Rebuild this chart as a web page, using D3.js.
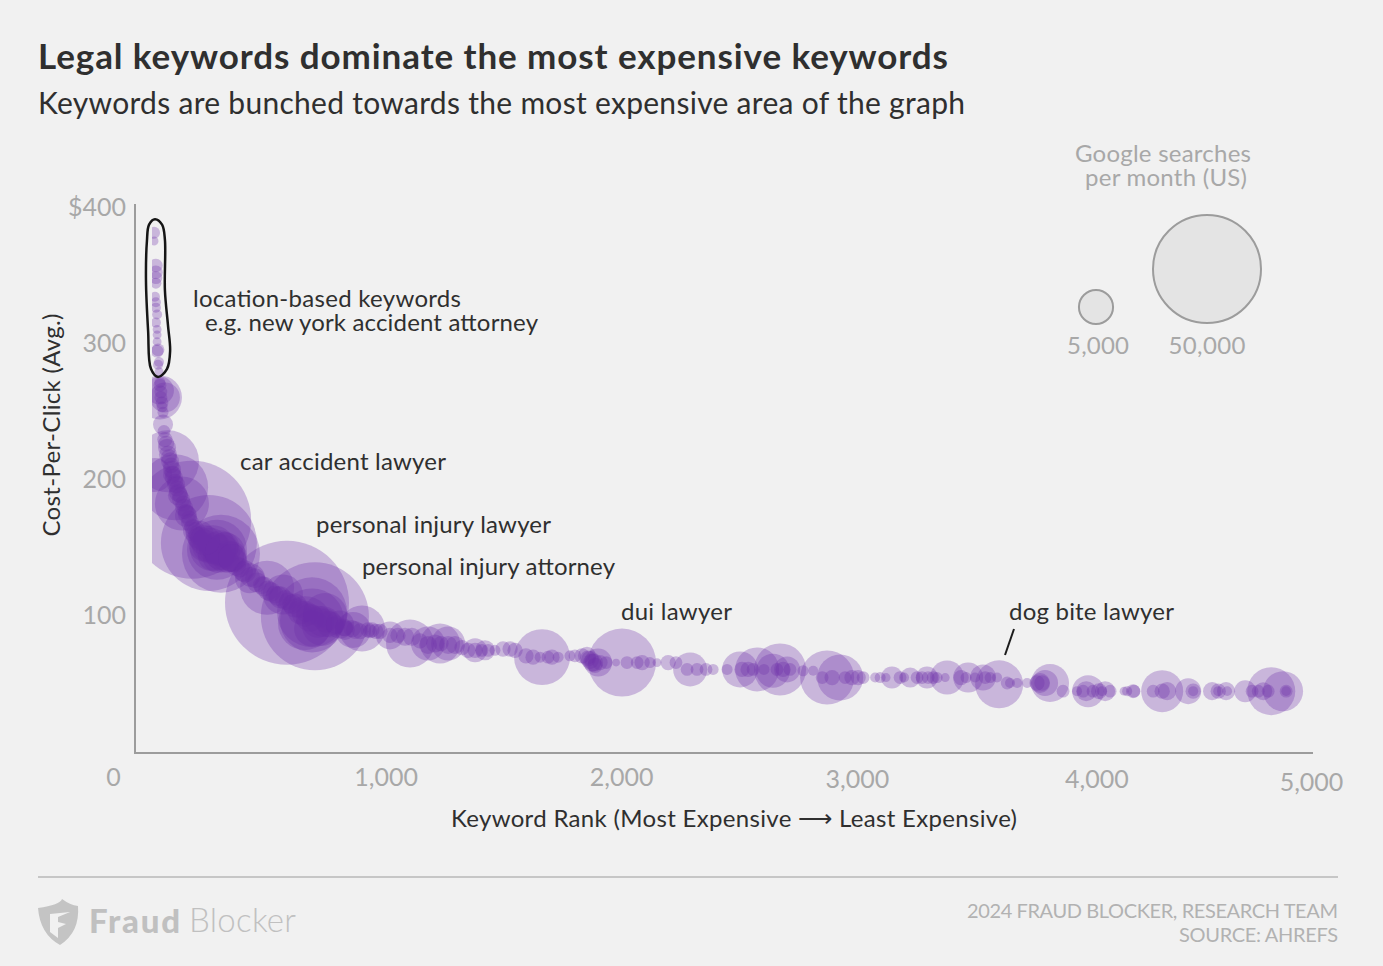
<!DOCTYPE html>
<html>
<head>
<meta charset="utf-8">
<script src="https://cdn.jsdelivr.net/npm/d3@7"></script>
<style>
  html, body { margin: 0; background: #f1f1f1; }
  text { font-family: Lato, "Noto Sans", sans-serif; }
</style>
</head>
<body>
<div id="chart"></div>
<script>
// values: rank, avg cost per click, monthly searches
const ranks = [
  17,17,25,25,25,25,21,25,25,30,25,30,30,30,30,34,34,38,38,
  42,42,63,42,42,46,46,51,51,55,55,59,
  63,72,76,85,93,101,110,118,131,144,156,169,186,203,224,245,266,287,313,338,364,393,423,452,482,511,541,571,600,630,659,689,719,752,786,820,854,888,921,955,
  68,80,89,97,106,114,127,140,152,165,178,194,216,
  211,254,275,304,330,287,245,359,380,317,
  473,528,583,634,676,710,744,782,824,685,727,
  93,118,152,186,211,232,296,347,262,402,444,499,550,613,655,761,824,867,930,
  76,106,21,135,178,249,300,283,266,317,347,232,579,697,495,562,423,685,685,655,740,896,858,803,
  1014,1099,1175,1226,1260,1374,1416,1657,1995,1894,2283,2494,2566,2663,2633,2693,2862,2917,3136,3213,3284,3369,3458,3521,3589,3783,3804,3965,3957,4037,4011,4155,4278,4388,4629,4705,4739,4789,
  938,972,1014,1048,1078,1107,1141,1175,1205,1230,1260,1289,1319,1344,1374,1403,1429,1458,1492,1522,1543,1589,1619,1649,1682,1699,1725,1775,1796,1826,1847,1851,1860,1868,1877,1881,1902,1928,1970,2016,2059,2080,2113,2143,2190,2223,
  2270,2312,2350,2380,2439,2502,2528,2549,2595,2650,2676,2705,2760,2803,2841,2883,2938,2967,2993,3014,3065,3086,3111,3170,3187,3242,3263,3289,3310,3327,3361,3428,3449,3487,3530,3551,3580,
  3623,3635,3665,3707,3749,3762,3770,3859,3918,3944,3986,4024,4058,4117,4130,4159,4240,4278,4299,4409,4409,4489,4515,4515,4548,4553,4658,4684,4726,4802,4802
];
const cpc = [
  381,375,357,352,348,344,334,330,326,321,315,310,306,301,294,295,284,286,279,
  271,260,260,265,269,264,260,256,253,249,240,235,
  229,223,218,213,207,201,196,190,185,179,174,168,162,158,154,151,147,144,142,139,136,132,128,124,121,117,114,111,108,105,102,100,98,96,93,91,90,88,89,88,
  226,216,210,204,198,193,188,182,176,171,165,160,156,
  159,151,149,146,143,142,148,140,135,151,
  122,115,110,102,98,95,96,92,90,90,92,
  203,188,173,162,156,151,149,143,143,132,127,118,113,107,101,93,89,89,88,
  213,194,203,182,170,153,145,148,149,146,142,155,109,99,120,115,127,102,96,94,100,90,89,93,
  85,79,79,79,79,74,74,69,65,65,60,60,60,60,59,60,54,54,54,54,54,54,54,54,49,50,50,44,44,44,44,44,44,44,44,44,44,44,
  89,88,85,85,84,84,81,78,79,79,78,78,76,74,74,74,74,74,75,75,74,70,69,69,69,69,69,70,70,70,70,68,67,65,65,63,65,65,65,65,65,65,65,65,65,65,
  60,60,60,60,60,60,60,60,60,60,60,60,59,59,54,54,54,54,54,54,54,54,54,54,54,54,54,54,54,54,54,54,54,54,54,54,54,
  50,50,50,50,50,50,50,44,44,44,44,44,44,44,44,44,44,44,44,44,44,44,44,44,44,44,44,44,44,44,44
];
const searches = [
  620,340,800,800,700,520,430,430,430,430,430,340,340,340,700,700,430,430,340,
  520,8300,3860,3360,700,700,700,700,520,520,1715,700,
  1000,1400,1400,1400,1400,1400,1400,1400,1400,1400,1400,1400,1400,1400,1700,1700,1700,1700,1700,1700,1700,1700,1700,1700,1700,1700,1700,1700,1700,1700,1700,1700,1700,1700,1500,1300,1300,1100,1000,1000,
  1100,1100,1100,1100,1100,1100,1100,1100,1100,1100,1100,1100,1100,
  3360,5560,4390,5560,4390,3860,2470,2470,1715,3360,
  1390,1390,1390,2470,3360,4390,2470,1390,1100,5560,6860,
  1390,1715,2075,2075,2470,4390,5560,3860,3360,2075,1715,1715,2075,2470,2900,2900,1715,1390,840,
  16500,18700,4950,12500,59700,39500,26100,15400,9070,6860,3360,3860,65900,50000,12500,6860,3860,21000,17600,12500,8300,9070,5560,3360,
  3360,9880,4950,6860,4950,2470,1715,13400,19800,3360,4950,5560,8300,11600,4950,2900,12500,9070,2075,1715,2075,4950,3860,2900,9880,2900,6190,4390,1715,1715,1100,840,7560,2900,2075,1390,9880,6860,
  1000,1000,1000,1000,1400,1400,1000,1400,1400,1000,1400,1400,1000,1000,1000,700,700,520,1000,1000,1000,1000,1000,520,700,1000,520,520,700,1000,1400,1100,1400,1400,1390,1000,1000,700,250,700,700,1000,520,340,1000,700,
  700,700,700,520,520,1000,1000,700,520,700,1000,700,520,430,700,1000,700,1000,1000,700,430,520,340,700,430,700,700,700,700,520,340,1000,520,430,700,520,430,
  700,430,430,430,1000,1715,1000,700,430,700,700,430,700,340,430,700,700,1000,1400,1000,430,1400,430,1000,1400,400,700,700,700,700,400
];

const xTicks = [0, 1000, 2000, 3000, 4000, 5000];
const yTicks = [100, 200, 300, 400];
const legendSearches = [5000, 50000];

// hand drawn loop round the location based keywords
const loopRanks = [21, 51, 63, 63, 76, 85, 72, 34, 4, -8, -17, -13, -4];
const loopCpc = [391, 387, 376, 339, 313, 294, 281, 275, 281, 309, 346, 375, 387];

const width = 1383;
const height = 966;
const purple = "#6c2ea8";
const grey = "#a8a8a8";
const ink = "#2f2f2f";

const svg = d3.select("#chart").append("svg")
  .attr("width", width)
  .attr("height", height)
  .style("display", "block")
  .style("background", "#f1f1f1");

const x = d3.scaleLinear().domain([0, 5000]).range([150, 1333]);
const y = d3.scaleLinear().domain([0, 400]).range([751, 207]);
const r = d3.scaleSqrt().domain([0, 50000]).range([0, 54]);

// text helper, the width keeps the run the same length as in the picture
function label(str, px, py, size, w, fill, opts = {}) {
  const t = svg.append("text")
    .attr("x", px).attr("y", py)
    .attr("font-size", size)
    .attr("font-weight", opts.weight || 400)
    .attr("fill", fill)
    .attr("text-anchor", opts.anchor || "start")
    .attr("dominant-baseline", "middle")
    .text(str);
  if (w) t.attr("textLength", w).attr("lengthAdjust", "spacing");
  if (opts.rotate) t.attr("transform", `rotate(${opts.rotate} ${px} ${py})`);
  return t;
}

label("Legal keywords dominate the most expensive keywords", 38, 60, 35, 910, ink, { weight: 700 });
label("Keywords are bunched towards the most expensive area of the graph", 38, 106, 30, 927, ink);

// bubbles, cut off on the left like the original
svg.append("clipPath").attr("id", "plot-clip")
  .append("rect").attr("x", 152).attr("y", 150).attr("width", 1200).attr("height", 600);

const points = ranks.map((d, i) => ({ rank: d, cpc: cpc[i], searches: searches[i] }));

svg.append("g")
  .attr("clip-path", "url(#plot-clip)")
  .selectAll("circle")
  .data(points)
  .join("circle")
  .attr("cx", d => x(d.rank))
  .attr("cy", d => y(d.cpc))
  .attr("r", d => r(d.searches))
  .attr("fill", purple)
  .attr("fill-opacity", 0.3);

// axes
const yAxis = svg.append("g")
  .attr("transform", "translate(135,0)")
  .call(d3.axisLeft(y).tickValues(yTicks).tickSize(0).tickPadding(9)
    .tickFormat(d => d === 400 ? "$400" : d));
yAxis.select(".domain").remove();
yAxis.selectAll("text").attr("font-size", 25).attr("fill", grey)
  .style("font-family", "Lato, 'Noto Sans', sans-serif");

const xAxis = svg.append("g")
  .attr("transform", "translate(0,753)")
  .call(d3.axisBottom(x).tickValues(xTicks).tickSize(0).tickFormat(d3.format(",")));
xAxis.select(".domain").remove();
// the tick labels sit a little off their ticks in the original
const nudgeX = [-37, -1, -2, -3, 0, -22];
const nudgeY = [0, 0, 0, 2, 2, 5];
xAxis.selectAll("text")
  .attr("font-size", 25).attr("fill", grey)
  .style("font-family", "Lato, 'Noto Sans', sans-serif")
  .attr("dominant-baseline", "middle")
  .attr("dy", 0)
  .attr("y", (d, i) => 27 + nudgeY[i])
  .attr("x", (d, i) => nudgeX[i]);

svg.append("line").attr("x1", 135).attr("x2", 135).attr("y1", 204).attr("y2", 754)
  .attr("stroke", "#9c9c9c").attr("stroke-width", 2);
svg.append("line").attr("x1", 134).attr("x2", 1313).attr("y1", 753).attr("y2", 753)
  .attr("stroke", "#9c9c9c").attr("stroke-width", 2);

label("Cost-Per-Click (Avg.)", 54, 425, 24, 223, ink, { anchor: "middle", rotate: -90 });
label("Keyword Rank (Most Expensive  ⟶  Least Expensive)", 451, 821, 24, 566, ink);

// annotations
label("location-based keywords", 193, 301, 24, 268, ink);
label("e.g. new york accident attorney", 205, 325, 24, 333, ink);
label("car accident lawyer", 240, 464, 24, 206, ink);
label("personal injury lawyer", 316, 527, 24, 235, ink);
label("personal injury attorney", 362, 569, 24, 253, ink);
label("dui lawyer", 621, 614, 24, 111, ink);
label("dog bite lawyer", 1009, 614, 24, 165, ink);

svg.append("line").attr("x1", 1014).attr("y1", 629).attr("x2", 1005).attr("y2", 655)
  .attr("stroke", "#1c1c1c").attr("stroke-width", 2);

const loop = d3.line()
  .x((d, i) => x(loopRanks[i]))
  .y((d, i) => y(loopCpc[i]))
  .curve(d3.curveCatmullRomClosed);
svg.append("path")
  .attr("d", loop(loopRanks))
  .attr("fill", "none")
  .attr("stroke", "#151515")
  .attr("stroke-width", 2.5);

// size legend
label("Google searches", 1163, 156, 24, 176, grey, { anchor: "middle" });
label("per month (US)", 1166, 180, 24, 162, grey, { anchor: "middle" });
const legendX = [1096, 1207];
const legendY = [307, 269];
svg.append("g").selectAll("circle")
  .data(legendSearches)
  .join("circle")
  .attr("cx", (d, i) => legendX[i])
  .attr("cy", (d, i) => legendY[i])
  .attr("r", d => r(d))
  .attr("fill", "#e4e4e4")
  .attr("stroke", "#9c9c9c")
  .attr("stroke-width", 2);
label("5,000", 1098, 348, 24, 62, grey, { anchor: "middle" });
label("50,000", 1207, 348, 24, 77, grey, { anchor: "middle" });

// footer
svg.append("line").attr("x1", 38).attr("x2", 1338).attr("y1", 877).attr("y2", 877)
  .attr("stroke", "#c6c6c6").attr("stroke-width", 2);
svg.append("path")
  .attr("d", "M38 908 Q60 905 62 899 Q70 905 78 906 Q80 932 60 945 Q40 934 38 908 Z M50 914 L50 932 L58 938 L58 928 L66 924 L58 922 L58 917 L70 912 Z")
  .attr("fill", "#c4c4c4")
  .attr("fill-rule", "evenodd");
label("Fraud", 89, 924, 33, 91, "#c0c0c0", { weight: 900 });
label("Blocker", 189, 924, 33, 107, "#c0c0c0", { weight: 300 });
label("2024 FRAUD BLOCKER, RESEARCH TEAM", 967, 913, 20, 371, "#b2b2b2");
label("SOURCE: AHREFS", 1179, 937, 20, 159, "#b2b2b2");
</script>
</body>
</html>
